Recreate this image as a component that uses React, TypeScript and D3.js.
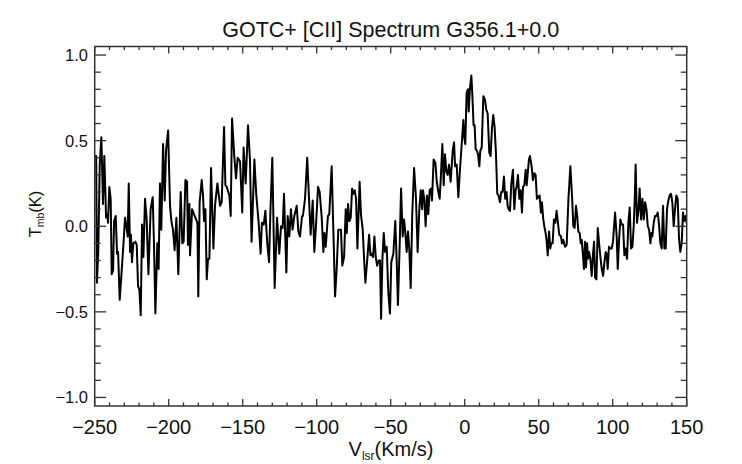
import React from 'react';
import * as d3 from 'd3';

// spectrum: velocity (km/s) and Tmb (K)
const velocity = [
  -251.0, -249.0, -248.5, -247.6, -246.6, -245.5, -244.4, -243.5, -242.3, -241.4, -241.0, -240.1, -239.2, -238.5, -237.6, -236.9,
  -235.8, -234.9, -234.2, -233.1, -232.0, -230.4, -229.5, -228.6, -227.7, -227.0, -226.1, -225.5, -224.8, -223.9, -222.5, -221.6,
  -220.7, -219.8, -218.9, -218.0, -217.1, -216.0, -214.9, -213.7, -212.2, -210.8, -209.9, -209.0, -207.7, -206.8, -205.9, -205.0,
  -203.8, -202.7, -201.8, -200.4, -199.1, -198.2, -197.1, -196.0, -194.8, -193.5, -191.9, -190.8, -189.9, -188.7, -187.6, -187.0,
  -186.0, -185.6, -184.2, -182.9, -181.5, -180.6, -180.0, -179.1, -177.7, -176.8, -176.1, -175.2, -174.3, -173.4, -172.5, -171.4,
  -169.8, -168.7, -167.1, -165.3, -164.2, -162.6, -161.7, -160.8, -159.0, -158.1, -157.2, -155.7, -154.5, -153.4, -151.8, -150.3,
  -149.4, -148.0, -146.4, -145.1, -144.0, -142.1, -140.8, -139.2, -137.9, -137.0, -135.8, -134.7, -133.4, -132.2, -131.3, -130.0,
  -128.4, -126.8, -125.3, -124.1, -123.0, -122.1, -120.5, -119.6, -118.5, -117.4, -116.3, -115.1, -113.5, -112.4, -111.3, -109.9,
  -109.3, -107.9, -106.4, -105.2, -104.1, -102.7, -101.6, -100.5, -99.1, -98.0, -96.6, -95.5, -94.8, -93.9, -92.4, -91.5,
  -89.9, -88.5, -87.6, -86.5, -85.4, -83.6, -82.7, -81.5, -80.4, -79.7, -78.8, -77.9, -77.0, -76.1, -75.2, -74.3,
  -73.4, -72.5, -71.0, -70.1, -68.9, -68.0, -67.1, -65.8, -64.6, -63.7, -62.8, -61.9, -61.0, -60.1, -59.2, -58.1,
  -57.2, -56.5, -55.6, -54.7, -53.8, -52.7, -51.6, -50.5, -49.6, -48.2, -46.9, -46.0, -45.1, -43.9, -43.0, -41.9,
  -41.0, -40.1, -39.2, -38.3, -37.4, -36.5, -35.4, -34.2, -32.9, -31.8, -30.6, -29.7, -28.8, -28.2, -27.3, -26.4,
  -25.5, -24.6, -23.7, -22.8, -22.1, -21.0, -19.8, -18.9, -17.8, -16.9, -16.0, -15.1, -14.2, -13.3, -12.4, -11.5,
  -10.6, -9.5, -8.1, -7.2, -6.5, -5.4, -4.3, -3.2, -2.1, -0.9, -0.3, 0.4, 1.3, 2.2, 2.7, 3.6,
  4.5, 5.1, 6.0, 6.7, 7.4, 8.3, 9.0, 9.9, 10.5, 11.5, 12.6, 13.7, 14.6, 15.5, 16.6, 17.5,
  18.4, 19.3, 20.2, 21.1, 22.0, 22.9, 23.8, 24.7, 25.6, 26.5, 27.4, 28.3, 29.0, 29.7, 30.6, 31.5,
  32.6, 33.5, 34.4, 35.1, 36.0, 36.9, 37.8, 38.7, 39.4, 40.3, 41.2, 41.9, 42.5, 43.4, 44.1, 45.2,
  46.1, 47.0, 47.9, 48.8, 49.7, 50.6, 51.5, 52.2, 53.1, 53.8, 54.7, 55.4, 56.1, 57.0, 57.8, 58.5,
  59.4, 60.3, 61.2, 62.1, 63.0, 63.9, 65.1, 65.7, 66.6, 67.8, 68.9, 70.1, 71.4, 72.5, 73.4, 74.3,
  75.2, 75.9, 76.8, 77.7, 78.4, 79.1, 80.0, 80.6, 81.3, 82.0, 82.7, 83.3, 84.0, 84.9, 85.8, 86.7,
  87.4, 88.1, 89.0, 89.9, 90.8, 91.7, 92.6, 93.5, 94.4, 95.3, 95.9, 96.6, 97.5, 98.4, 99.3, 100.2,
  101.6, 102.7, 103.4, 104.3, 105.2, 106.1, 107.0, 107.9, 108.8, 109.7, 110.6, 111.5, 112.4, 113.3, 114.2, 114.9,
  115.5, 116.4, 117.4, 118.2, 119.2, 120.1, 121.0, 121.9, 122.8, 123.7, 124.6, 125.5, 126.1, 126.8, 127.7, 128.6,
  129.5, 130.4, 131.3, 132.2, 133.1, 134.0, 134.9, 135.8, 136.7, 137.6, 138.5, 139.4, 140.3, 141.2, 142.1, 143.0,
  143.9, 144.8, 145.7, 146.6, 147.5, 148.4, 149.3, 150.2, 151.0,
];

const tmb = [
  0.41, 0.41, -0.33, -0.15, 0.36, 0.52, 0.13, 0.41, 0.05, 0.07, 0.02, 0.23, 0.16, -0.28, -0.26, 0.03,
  0.06, -0.16, -0.15, -0.43, -0.29, -0.08, 0.05, 0.00, -0.06, 0.25, -0.15, -0.05, -0.21, -0.10, -0.09, -0.11,
  -0.35, -0.37, -0.52, 0.01, -0.18, 0.16, 0.04, -0.28, 0.10, 0.17, -0.12, -0.51, -0.10, -0.25, 0.25, -0.02,
  0.48, 0.15, 0.44, 0.56, 0.12, 0.03, -0.02, -0.14, 0.05, -0.28, 0.20, -0.10, -0.09, 0.27, 0.26, -0.11,
  0.13, -0.17, 0.10, 0.07, 0.04, 0.02, -0.41, 0.14, 0.27, 0.18, 0.03, 0.10, -0.31, -0.19, -0.19, 0.34,
  -0.13, 0.12, 0.25, 0.12, 0.14, 0.58, 0.24, 0.23, 0.18, 0.06, 0.63, 0.41, 0.28, 0.40, 0.38, 0.08,
  0.46, 0.25, 0.59, 0.39, -0.09, 0.39, 0.18, 0.02, -0.16, 0.02, 0.01, 0.09, -0.10, -0.21, 0.08, 0.40,
  -0.36, 0.05, -0.16, 0.00, -0.01, 0.19, -0.27, 0.06, -0.06, 0.10, -0.02, 0.06, 0.12, -0.03, -0.06, 0.06,
  0.06, 0.16, 0.40, 0.16, -0.05, 0.15, -0.15, 0.00, 0.23, 0.20, 0.05, -0.15, -0.04, -0.12, 0.06, 0.07,
  0.35, -0.10, -0.41, -0.25, -0.02, -0.02, -0.23, -0.18, 0.10, -0.04, 0.13, 0.03, 0.05, 0.22, 0.19, 0.21,
  0.16, -0.13, 0.26, 0.07, -0.02, -0.19, -0.33, -0.19, -0.05, -0.17, -0.16, -0.18, -0.06, -0.18, -0.23, -0.20,
  -0.20, -0.54, -0.19, -0.04, -0.15, -0.12, -0.39, -0.51, -0.21, -0.16, 0.03, -0.19, -0.46, -0.10, 0.22, -0.06,
  0.04, -0.04, -0.15, -0.03, -0.14, -0.36, 0.08, 0.34, 0.16, -0.15, 0.11, 0.21, 0.10, 0.21, 0.16, 0.00,
  0.18, 0.07, 0.21, 0.22, 0.15, 0.39, 0.37, 0.26, 0.20, 0.16, 0.31, 0.48, 0.24, 0.42, 0.32, 0.30,
  0.36, 0.26, 0.44, 0.49, 0.35, 0.36, 0.17, 0.33, 0.47, 0.62, 0.52, 0.48, 0.78, 0.80, 0.67, 0.81,
  0.88, 0.78, 0.59, 0.59, 0.45, 0.44, 0.42, 0.35, 0.44, 0.46, 0.76, 0.74, 0.68, 0.66, 0.43, 0.41,
  0.57, 0.65, 0.58, 0.43, 0.19, 0.18, 0.14, 0.20, 0.20, 0.29, 0.16, 0.20, 0.12, 0.10, 0.09, 0.25,
  0.33, 0.10, 0.21, 0.23, 0.30, 0.16, 0.21, 0.08, 0.23, 0.24, 0.33, 0.24, 0.30, 0.39, 0.41, 0.35,
  0.27, 0.31, 0.30, 0.16, 0.17, 0.18, 0.08, 0.14, 0.04, 0.00, -0.04, -0.09, -0.17, -0.03, -0.13, -0.10,
  -0.10, 0.04, 0.02, 0.09, 0.02, -0.05, -0.06, -0.10, -0.08, -0.12, -0.11, 0.16, 0.35, 0.18, 0.00, -0.01,
  0.12, 0.07, -0.03, -0.04, -0.10, -0.08, -0.18, -0.25, -0.09, -0.24, -0.10, -0.19, -0.15, -0.19, -0.29, -0.16,
  -0.09, -0.30, -0.31, -0.01, -0.10, -0.18, -0.25, -0.29, -0.21, -0.15, -0.16, -0.25, -0.12, -0.13, -0.13, -0.09,
  0.08, -0.06, -0.25, -0.08, 0.04, 0.01, 0.01, -0.17, -0.13, -0.19, 0.02, 0.11, -0.13, -0.12, 0.00, 0.16,
  0.36, 0.02, 0.09, 0.22, 0.04, 0.16, 0.04, 0.14, 0.10, 0.00, -0.02, -0.10, -0.04, -0.06, 0.02, 0.06,
  0.06, 0.08, 0.01, -0.10, -0.13, 0.12, -0.13, -0.13, 0.10, 0.15, 0.18, 0.19, 0.14, 0.00, 0.10, 0.18,
  0.16, -0.07, -0.15, -0.10, 0.08, 0.03, 0.06, 0.01, 0.05,
];

const xTickValues = [-250, -200, -150, -100, -50, 0, 50, 100, 150];
const yTickValues = [-1.0, -0.5, 0.0, 0.5, 1.0];
const titleText = 'GOTC+ [CII] Spectrum G356.1+0.0';

const width = 742;
const height = 464;
const left = 94.7;
const right = 686.7;
const top = 46.5;
const bottom = 406;
const font = '"Liberation Sans", Arial, Helvetica, sans-serif';
const axisColor = '#333';

const App: React.FC = () => {
  const x = d3.scaleLinear().domain([-250, 150]).range([left, right]);
  const y = d3.scaleLinear().domain([-1.05, 1.05]).range([bottom, top]);

  const xMinor = d3.range(-250, 151, 10).filter(v => v % 50 !== 0);
  const yMinor = d3.range(-10, 11).map(v => v / 10).filter(v => Math.abs(v * 10) % 5 !== 0);

  const points: [number, number][] = velocity.map((v, i) => [v, tmb[i]]);
  const line = d3.line<[number, number]>()
    .x(d => x(d[0]))
    .y(d => y(d[1]));

  const fmtY = d3.format('.1f');
  const fmtX = d3.format('d');

  return (
    <svg width={width} height={height} style={{ position: 'absolute', left: 0, top: 0, background: '#fff' }}>
      <defs>
        <clipPath id="plot">
          <rect x={left} y={top} width={right - left} height={bottom - top} />
        </clipPath>
      </defs>

      <text x={(left + right) / 2} y={37} textAnchor="middle" fontFamily={font} fontSize={21.5} fill="#111">
        {titleText}
      </text>

      <path d={line(points) ?? ''} fill="none" stroke="#000" strokeWidth={2} strokeLinejoin="round" clipPath="url(#plot)" />

      <rect x={left} y={top} width={right - left} height={bottom - top} fill="none" stroke={axisColor} strokeWidth={1.5} />

      {xTickValues.map(v => (
        <g key={'xt' + v} stroke={axisColor} strokeWidth={1.3}>
          <line x1={x(v)} x2={x(v)} y1={bottom} y2={bottom - 7} />
          <line x1={x(v)} x2={x(v)} y1={top} y2={top + 7} />
        </g>
      ))}
      {xMinor.map(v => (
        <g key={'xm' + v} stroke={axisColor} strokeWidth={1.3}>
          <line x1={x(v)} x2={x(v)} y1={bottom} y2={bottom - 3.6} />
          <line x1={x(v)} x2={x(v)} y1={top} y2={top + 3.6} />
        </g>
      ))}
      {yTickValues.map(v => (
        <g key={'yt' + v} stroke={axisColor} strokeWidth={1.3}>
          <line x1={left} x2={left + 11.5} y1={y(v)} y2={y(v)} />
          <line x1={right} x2={right - 11.5} y1={y(v)} y2={y(v)} />
        </g>
      ))}
      {yMinor.map(v => (
        <g key={'ym' + v} stroke={axisColor} strokeWidth={1.3}>
          <line x1={left} x2={left + 6} y1={y(v)} y2={y(v)} />
          <line x1={right} x2={right - 6} y1={y(v)} y2={y(v)} />
        </g>
      ))}

      {xTickValues.map(v => (
        <text key={'xl' + v} x={x(v)} y={434} textAnchor="middle" fontFamily={font} fontSize={20} fill="#111">
          {fmtX(v)}
        </text>
      ))}
      {yTickValues.map(v => (
        <text key={'yl' + v} x={88} y={y(v)} dy="0.36em" textAnchor="end" fontFamily={font} fontSize={16.5} fill="#111">
          {fmtY(v)}
        </text>
      ))}

      <text x={391} y={456} textAnchor="middle" fontFamily={font} fontSize={20} fill="#111">
        V<tspan fontSize={12} dy={4}>lsr</tspan><tspan dy={-4}>(Km/s)</tspan>
      </text>

      <text transform={`translate(41, 214) rotate(-90)`} textAnchor="middle" fontFamily={font} fontSize={16.5} fill="#111">
        T<tspan fontSize={10.5} dy={3}>mb</tspan><tspan dy={-3}>(K)</tspan>
      </text>
    </svg>
  );
};

export default App;
